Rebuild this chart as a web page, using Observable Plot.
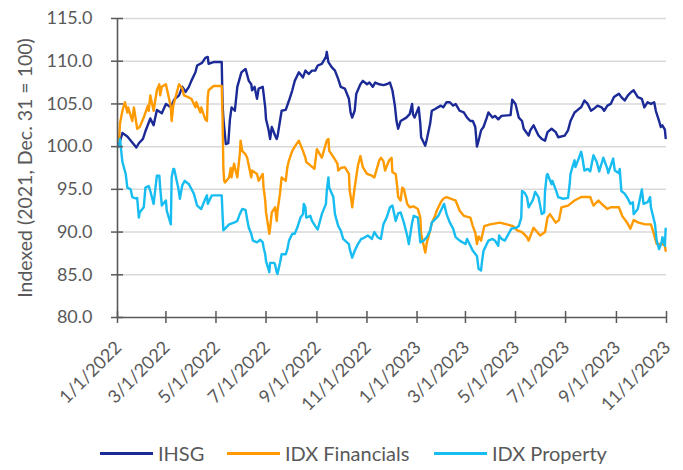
<!DOCTYPE html>
<html><head><meta charset="utf-8">
<script src="https://cdn.jsdelivr.net/npm/d3@7"></script>
<script src="https://cdn.jsdelivr.net/npm/@observablehq/plot@0.6"></script>
<style>
body{margin:0;background:#fff;font-family:Lato,sans-serif;}
#wrap{position:relative;width:683px;height:470px;overflow:hidden;}
#legend{position:absolute;left:0;top:440px;width:683px;height:26px;font-size:20px;color:#595959;white-space:nowrap;}
.item{position:absolute;top:0;height:26px;display:flex;align-items:center;}
.sw{width:53px;height:3px;margin-right:5px;}
</style></head><body><div id="wrap"><div id="chart"></div><div id="legend"></div></div>
<script>
const ihsg = [
["2022-01-03",100.3],["2022-01-07",101.6],["2022-01-13",101.2],["2022-01-18",100.6],["2022-01-24",99.9],["2022-01-27",100.4],
["2022-02-01",100.9],["2022-02-04",101.8],["2022-02-10",103.3],["2022-02-14",102.5],["2022-02-18",104.3],["2022-02-24",103.9],
["2022-03-01",105.0],["2022-03-07",104.6],["2022-03-11",105.5],["2022-03-17",106.0],["2022-03-21",107.0],["2022-03-25",106.4],["2022-03-29",107.0],
["2022-04-01",107.7],["2022-04-06",108.7],["2022-04-08",109.5],["2022-04-14",109.8],["2022-04-18",110.4],["2022-04-21",110.5],["2022-04-22",109.7],["2022-04-28",109.9],
["2022-05-08",109.9],["2022-05-09",105.1],["2022-05-10",103.3],["2022-05-13",100.3],["2022-05-16",100.4],["2022-05-18",103.2],["2022-05-20",104.6],["2022-05-24",104.2],["2022-05-27",107.0],
["2022-06-01",108.7],["2022-06-06",109.1],["2022-06-10",107.7],["2022-06-13",107.3],["2022-06-14",106.6],["2022-06-17",107.0],["2022-06-20",105.6],["2022-06-22",106.8],["2022-06-27",107.0],["2022-06-28",106.2],["2022-06-30",104.6],
["2022-07-01",103.2],["2022-07-04",102.0],["2022-07-06",100.9],["2022-07-08",102.3],["2022-07-12",101.3],["2022-07-14",100.9],["2022-07-15",101.2],["2022-07-18",103.0],["2022-07-20",104.2],["2022-07-25",104.3],["2022-07-29",105.4],
["2022-08-02",106.6],["2022-08-05",107.7],["2022-08-10",108.7],["2022-08-15",108.1],["2022-08-18",108.9],["2022-08-22",108.5],["2022-08-26",108.9],["2022-08-30",108.9],
["2022-09-02",109.5],["2022-09-07",109.7],["2022-09-12",110.5],["2022-09-13",111.1],["2022-09-15",109.9],["2022-09-19",109.3],["2022-09-23",108.9],["2022-09-27",107.9],["2022-09-30",107.0],
["2022-10-05",106.8],["2022-10-10",105.6],["2022-10-12",104.0],["2022-10-14",103.4],["2022-10-17",104.2],["2022-10-19",106.2],["2022-10-24",107.3],["2022-10-27",107.7],
["2022-11-01",107.3],["2022-11-04",107.5],["2022-11-08",107.0],["2022-11-11",107.5],["2022-11-16",107.3],["2022-11-21",107.2],["2022-11-25",107.3],["2022-11-29",107.5],
["2022-12-02",106.6],["2022-12-05",104.8],["2022-12-07",103.0],["2022-12-09",102.1],["2022-12-12",103.0],["2022-12-19",103.4],["2022-12-23",103.8],["2022-12-26",105.0],["2022-12-27",103.8],["2022-12-29",103.4],
["2023-01-03",104.6],["2023-01-05",102.7],["2023-01-06",101.1],["2023-01-11",100.1],["2023-01-13",100.9],["2023-01-17",102.7],["2023-01-19",104.2],["2023-01-23",104.4],["2023-01-30",104.8],
["2023-02-02",104.6],["2023-02-06",105.2],["2023-02-10",105.2],["2023-02-14",104.8],["2023-02-17",105.0],["2023-02-22",104.2],["2023-02-27",104.0],
["2023-03-03",103.4],["2023-03-07",103.0],["2023-03-10",103.0],["2023-03-13",102.3],["2023-03-15",100.0],["2023-03-17",100.7],["2023-03-20",101.9],["2023-03-23",102.3],["2023-03-27",103.4],["2023-03-29",104.0],
["2023-04-03",103.4],["2023-04-06",103.6],["2023-04-10",103.2],["2023-04-14",103.6],["2023-04-25",103.7],["2023-04-27",105.5],
["2023-05-01",105.0],["2023-05-05",103.4],["2023-05-09",103.0],["2023-05-11",102.1],["2023-05-17",101.3],["2023-05-19",101.9],["2023-05-23",102.5],["2023-05-29",101.3],
["2023-06-02",100.9],["2023-06-06",100.7],["2023-06-09",101.7],["2023-06-14",102.1],["2023-06-19",101.7],["2023-06-22",101.1],["2023-06-30",101.3],
["2023-07-04",101.9],["2023-07-07",103.0],["2023-07-12",104.0],["2023-07-17",104.4],["2023-07-20",104.6],["2023-07-24",105.4],["2023-07-28",105.0],
["2023-08-01",104.2],["2023-08-04",104.4],["2023-08-09",104.8],["2023-08-14",104.6],["2023-08-17",104.2],["2023-08-21",104.8],["2023-08-25",105.0],["2023-08-29",105.8],
["2023-09-04",106.2],["2023-09-07",105.8],["2023-09-11",105.4],["2023-09-15",106.0],["2023-09-19",106.4],["2023-09-22",106.6],["2023-09-27",105.8],
["2023-10-02",105.6],["2023-10-05",104.6],["2023-10-09",105.2],["2023-10-13",105.0],["2023-10-17",105.2],["2023-10-19",104.2],["2023-10-23",103.0],["2023-10-25",102.3],["2023-10-27",102.5],["2023-10-30",102.0],["2023-10-31",101.0]
];
const financials = [
["2022-01-03",100.8],["2022-01-04",102.7],["2022-01-07",104.2],["2022-01-10",105.2],["2022-01-13",104.0],["2022-01-14",104.6],["2022-01-19",103.0],["2022-01-21",104.6],["2022-01-25",102.1],["2022-01-28",102.3],
["2022-02-02",103.4],["2022-02-07",104.8],["2022-02-08",104.2],["2022-02-10",106.0],["2022-02-14",104.2],["2022-02-18",106.6],["2022-02-21",107.3],["2022-02-22",106.0],["2022-02-24",107.0],
["2022-03-01",107.3],["2022-03-04",106.0],["2022-03-07",104.6],["2022-03-08",103.0],["2022-03-10",104.8],["2022-03-15",106.6],["2022-03-17",107.3],["2022-03-21",106.8],["2022-03-23",106.0],["2022-03-28",105.8],
["2022-04-01",105.6],["2022-04-06",104.6],["2022-04-07",105.2],["2022-04-12",104.0],["2022-04-13",104.6],["2022-04-18",103.2],["2022-04-20",103.0],["2022-04-21",105.8],["2022-04-22",106.6],["2022-04-28",107.1],
["2022-05-08",107.1],["2022-05-09",103.5],["2022-05-10",97.5],["2022-05-11",96.0],["2022-05-12",95.8],["2022-05-17",96.4],["2022-05-19",97.5],["2022-05-20",96.4],["2022-05-23",98.0],["2022-05-27",96.4],["2022-05-30",99.1],["2022-05-31",100.7],
["2022-06-02",99.5],["2022-06-06",99.1],["2022-06-08",98.7],["2022-06-10",97.8],["2022-06-13",96.4],["2022-06-14",97.2],["2022-06-20",96.8],["2022-06-22",96.0],["2022-06-27",96.8],["2022-06-28",95.2],["2022-06-30",93.7],
["2022-07-01",92.3],["2022-07-05",89.8],["2022-07-06",90.5],["2022-07-08",92.3],["2022-07-12",92.9],["2022-07-14",91.3],["2022-07-15",92.5],["2022-07-18",94.5],["2022-07-20",96.4],["2022-07-25",96.0],["2022-07-27",97.6],["2022-07-29",98.4],
["2022-08-02",99.5],["2022-08-05",100.0],["2022-08-10",100.7],["2022-08-15",99.5],["2022-08-18",98.7],["2022-08-19",98.2],["2022-08-24",97.8],["2022-08-29",97.4],
["2022-09-01",99.7],["2022-09-07",98.7],["2022-09-13",100.7],["2022-09-15",100.9],["2022-09-16",99.5],["2022-09-21",98.8],["2022-09-26",98.0],["2022-09-27",97.2],["2022-09-30",97.5],
["2022-10-05",97.6],["2022-10-10",96.8],["2022-10-11",94.8],["2022-10-13",93.7],["2022-10-14",92.9],["2022-10-17",95.2],["2022-10-21",97.8],["2022-10-24",98.9],["2022-10-27",97.6],
["2022-11-01",96.8],["2022-11-07",96.6],["2022-11-10",96.4],["2022-11-16",98.4],["2022-11-18",98.7],["2022-11-21",98.3],["2022-11-23",97.2],["2022-11-28",98.4],
["2022-12-01",98.7],["2022-12-02",97.0],["2022-12-06",96.8],["2022-12-08",95.2],["2022-12-09",94.1],["2022-12-12",93.7],["2022-12-14",95.2],["2022-12-16",95.0],["2022-12-20",93.3],["2022-12-23",92.9],["2022-12-28",93.0],
["2023-01-02",92.7],["2023-01-05",91.7],["2023-01-06",89.8],["2023-01-11",87.6],["2023-01-13",88.8],["2023-01-17",90.2],["2023-01-19",91.1],["2023-01-23",91.9],["2023-01-25",92.5],["2023-01-30",93.5],
["2023-02-02",93.9],["2023-02-06",94.1],["2023-02-14",93.8],["2023-02-17",93.7],["2023-02-22",92.5],["2023-02-27",91.9],
["2023-03-07",91.7],["2023-03-10",90.7],["2023-03-13",89.9],["2023-03-15",88.6],["2023-03-17",89.5],["2023-03-20",89.0],["2023-03-24",90.7],["2023-03-31",90.9],
["2023-04-12",91.1],["2023-04-28",90.7],
["2023-05-03",90.2],["2023-05-09",90.0],["2023-05-15",89.4],["2023-05-17",89.0],["2023-05-23",90.5],["2023-05-31",89.6],
["2023-06-06",90.0],["2023-06-09",91.7],["2023-06-12",92.1],["2023-06-19",91.1],["2023-06-23",91.4],["2023-06-26",92.9],
["2023-07-04",93.1],["2023-07-12",93.7],["2023-07-20",94.1],["2023-07-31",94.1],
["2023-08-04",93.1],["2023-08-10",93.7],["2023-08-14",93.3],["2023-08-21",92.7],["2023-08-25",92.9],
["2023-09-04",92.9],["2023-09-08",91.9],["2023-09-14",91.1],["2023-09-18",90.4],["2023-09-22",91.4],["2023-09-28",91.1],
["2023-10-06",90.9],["2023-10-13",90.9],["2023-10-16",90.0],["2023-10-20",88.6],["2023-10-26",88.6],["2023-10-30",88.4],["2023-10-31",87.8]
];
const property = [
["2022-01-03",100.0],["2022-01-04",100.9],["2022-01-07",98.2],["2022-01-11",96.8],["2022-01-13",95.2],["2022-01-17",95.0],["2022-01-19",94.1],["2022-01-24",93.9],["2022-01-25",94.0],["2022-01-27",91.7],["2022-01-28",92.3],
["2022-02-02",92.9],["2022-02-04",95.2],["2022-02-08",95.4],["2022-02-10",94.8],["2022-02-14",93.3],["2022-02-18",96.6],["2022-02-21",96.6],["2022-02-22",95.2],["2022-02-24",93.1],
["2022-03-01",93.7],["2022-03-02",92.5],["2022-03-07",90.9],["2022-03-08",96.4],["2022-03-10",97.4],["2022-03-11",97.4],["2022-03-16",95.2],["2022-03-18",93.9],["2022-03-21",95.5],["2022-03-24",96.0],["2022-03-29",95.6],
["2022-04-04",94.5],["2022-04-08",93.1],["2022-04-13",92.7],["2022-04-18",93.9],["2022-04-20",94.3],["2022-04-21",93.3],["2022-04-26",94.3],
["2022-05-08",94.3],["2022-05-09",92.1],["2022-05-10",90.2],["2022-05-17",90.9],["2022-05-23",91.1],["2022-05-27",91.3],["2022-05-30",92.1],
["2022-06-02",92.7],["2022-06-06",92.6],["2022-06-08",91.5],["2022-06-10",90.5],["2022-06-13",89.8],["2022-06-14",89.4],["2022-06-15",89.0],["2022-06-20",88.8],["2022-06-24",89.1],["2022-06-27",88.8],["2022-06-28",88.2],["2022-06-30",87.4],
["2022-07-01",86.6],["2022-07-05",85.3],["2022-07-06",86.4],["2022-07-11",86.4],["2022-07-12",86.2],["2022-07-14",85.3],["2022-07-15",85.1],["2022-07-18",86.4],["2022-07-20",87.4],["2022-07-25",87.4],["2022-07-27",88.0],["2022-07-29",89.0],
["2022-08-02",89.8],["2022-08-05",89.8],["2022-08-08",90.5],["2022-08-12",91.7],["2022-08-15",92.1],["2022-08-16",93.3],["2022-08-18",92.9],["2022-08-19",91.7],["2022-08-24",91.9],["2022-08-26",91.3],["2022-08-30",90.7],
["2022-09-02",90.3],["2022-09-07",92.1],["2022-09-12",93.3],["2022-09-13",94.8],["2022-09-15",96.4],["2022-09-16",95.2],["2022-09-21",94.1],["2022-09-23",92.1],["2022-09-27",90.7],["2022-09-30",90.2],
["2022-10-03",89.2],["2022-10-10",88.6],["2022-10-11",88.0],["2022-10-14",87.0],["2022-10-17",87.8],["2022-10-21",88.6],["2022-10-25",89.2],["2022-10-28",89.3],
["2022-11-02",89.6],["2022-11-07",89.2],["2022-11-10",90.0],["2022-11-14",89.4],["2022-11-18",89.2],["2022-11-21",90.9],["2022-11-25",91.7],["2022-11-29",92.9],
["2022-12-02",93.1],["2022-12-06",91.3],["2022-12-09",92.2],["2022-12-12",92.3],["2022-12-16",91.1],["2022-12-20",89.6],["2022-12-22",88.6],["2022-12-26",91.1],["2022-12-28",91.9],
["2023-01-02",91.7],["2023-01-05",88.8],["2023-01-09",89.0],["2023-01-13",89.4],["2023-01-17",90.2],["2023-01-19",91.1],["2023-01-25",91.7],["2023-01-27",91.9],["2023-01-31",92.7],
["2023-02-03",93.3],["2023-02-06",92.1],["2023-02-10",91.1],["2023-02-14",90.4],["2023-02-17",89.4],["2023-02-22",89.0],
["2023-03-01",88.6],["2023-03-03",89.2],["2023-03-07",88.4],["2023-03-10",87.8],["2023-03-15",87.2],["2023-03-17",85.7],["2023-03-20",85.5],["2023-03-21",86.4],["2023-03-23",87.8],["2023-03-27",88.6],["2023-03-29",89.0],
["2023-04-03",89.2],["2023-04-06",89.0],["2023-04-10",88.4],["2023-04-11",89.6],["2023-04-14",89.2],["2023-04-18",89.0],["2023-04-26",90.4],
["2023-05-02",90.5],["2023-05-05",90.7],["2023-05-08",91.7],["2023-05-09",94.8],["2023-05-12",94.6],["2023-05-15",94.1],["2023-05-17",92.9],["2023-05-22",93.7],["2023-05-25",94.7],["2023-05-29",94.1],
["2023-06-02",92.1],["2023-06-05",92.3],["2023-06-06",94.8],["2023-06-08",96.6],["2023-06-09",96.8],["2023-06-14",95.6],["2023-06-15",96.0],["2023-06-20",94.7],["2023-06-22",94.1],["2023-06-28",93.9],
["2023-07-04",94.0],["2023-07-06",95.6],["2023-07-07",96.8],["2023-07-10",97.8],["2023-07-12",98.4],["2023-07-13",97.6],["2023-07-17",98.6],["2023-07-20",99.4],["2023-07-21",99.0],["2023-07-24",97.2],["2023-07-28",97.4],["2023-07-31",97.1],
["2023-08-04",99.0],["2023-08-08",98.2],["2023-08-11",97.1],["2023-08-16",98.7],["2023-08-21",97.4],["2023-08-22",96.9],["2023-08-28",98.6],["2023-08-30",97.2],
["2023-09-04",96.9],["2023-09-05",97.4],["2023-09-07",94.8],["2023-09-11",94.5],["2023-09-15",93.9],["2023-09-18",93.3],["2023-09-21",93.5],["2023-09-22",92.1],["2023-09-27",92.7],
["2023-10-02",95.0],["2023-10-04",93.3],["2023-10-09",93.5],["2023-10-12",94.1],["2023-10-13",92.9],["2023-10-16",91.7],["2023-10-18",90.9],["2023-10-20",89.0],["2023-10-23",88.0],["2023-10-26",88.8],["2023-10-27",89.4],["2023-10-30",88.4],["2023-10-31",90.4]
];
const seriesNames = ["IHSG", "IDX Financials", "IDX Property"];
const seriesColors = ["#1b2a96", "#ff9a00", "#17bcf0"];
const legendLeft = [100, 227, 434];
const yTicks = [80, 85, 90, 95, 100, 105, 110, 115];
const xTicks = ["2022-01-01","2022-03-01","2022-05-01","2022-07-01","2022-09-01","2022-11-01","2023-01-01","2023-03-01","2023-05-01","2023-07-01","2023-09-01","2023-11-01"];
const yLabel = "Indexed (2021, Dec. 31 = 100)";

const rows = [];
[ihsg, financials, property].forEach((s, i) => s.forEach(([d, v]) => rows.push({date: new Date(d), value: v, series: seriesNames[i]})));
const xTickDates = xTicks.map(d => new Date(d));
const fmt = d3.utcFormat("%-m/%-d/%Y");
const axisColor = "#595959";

const chart = Plot.plot({
  width: 683, height: 425,
  marginLeft: 117, marginRight: 17, marginTop: 18, marginBottom: 108,
  style: {fontFamily: "Lato, sans-serif", fontSize: "18px", color: axisColor, background: "#fff"},
  x: {type: "utc", domain: [xTickDates[0], xTickDates[xTickDates.length - 1]], axis: null},
  y: {domain: [80, 115], axis: null},
  color: {domain: seriesNames, range: seriesColors},
  marks: [
    Plot.ruleY(yTicks.filter(v => v > 80), {stroke: "#d9d9d9", strokeWidth: 1.5}),
    Plot.line(rows, {x: "date", y: "value", z: "series", stroke: "series", strokeWidth: 2.4}),
    Plot.ruleX([xTickDates[0]], {stroke: axisColor, strokeWidth: 1.6}),
    Plot.ruleY([80], {stroke: axisColor, strokeWidth: 1.6}),
    Plot.ruleX(xTickDates, {x: d => d, y1: 80, y2: 80, insetTop: -6, insetBottom: -6, stroke: axisColor, strokeWidth: 1.5}),
    Plot.ruleY(yTicks, {y: d => d, x1: xTickDates[0], x2: xTickDates[0], insetLeft: -6, insetRight: -6, stroke: axisColor, strokeWidth: 1.5}),
    Plot.axisY({ticks: yTicks, tickFormat: d3.format(".1f"), tickSize: 0, tickPadding: 25, fontSize: 18, label: null, fill: axisColor}),
    Plot.text(xTickDates, {x: d => d, frameAnchor: "bottom", text: d => fmt(d), rotate: -45, textAnchor: "end", lineAnchor: "middle", dx: 1, dy: 27, fontSize: 18, fill: axisColor}),
    Plot.text([yLabel], {frameAnchor: "left", text: d => d, rotate: -90, textAnchor: "middle", lineAnchor: "middle", dx: -92, fontSize: 19.5, fill: axisColor})
  ]
});
document.getElementById("chart").appendChild(chart);

const legend = document.getElementById("legend");
seriesNames.forEach((name, i) => {
  const item = document.createElement("div");
  item.className = "item";
  item.style.left = legendLeft[i] + "px";
  const sw = document.createElement("span");
  sw.className = "sw";
  sw.style.background = seriesColors[i];
  const lab = document.createElement("span");
  lab.textContent = name;
  item.appendChild(sw); item.appendChild(lab);
  legend.appendChild(item);
});
</script></body></html>
